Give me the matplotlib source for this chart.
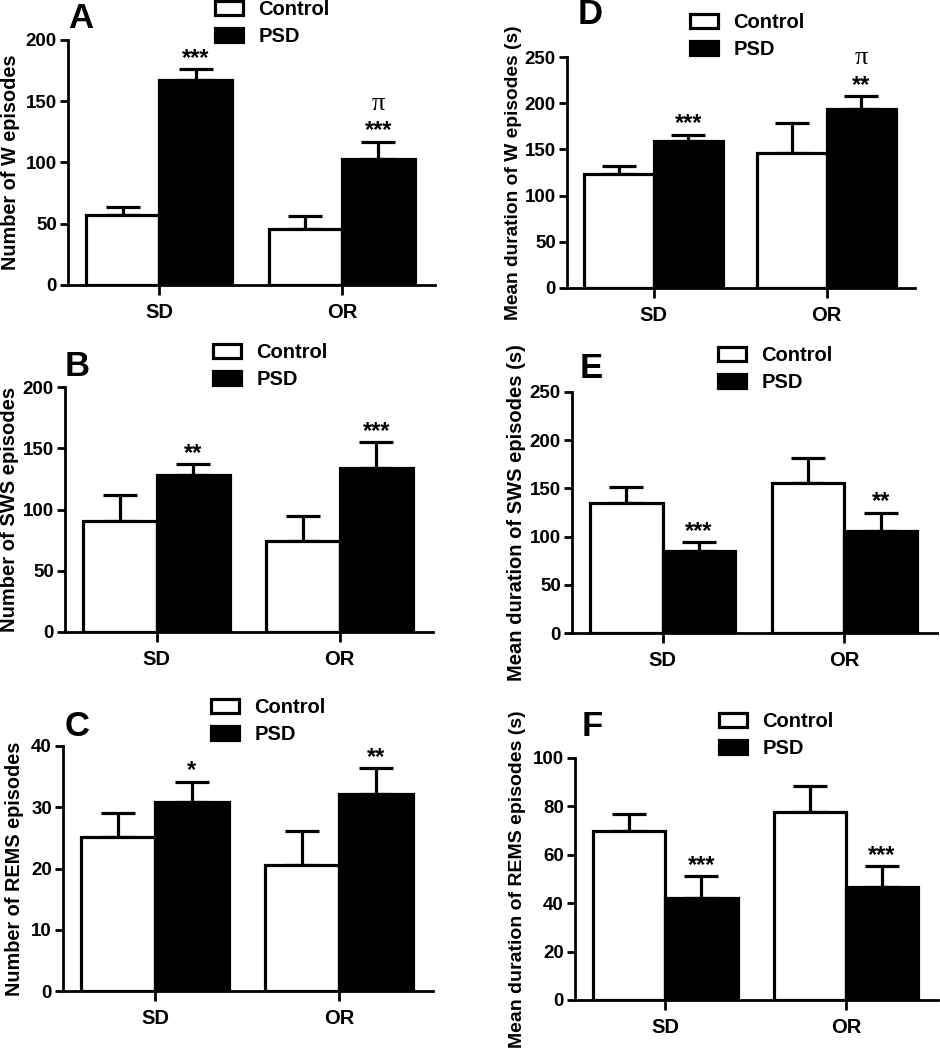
import matplotlib
matplotlib.use("Agg")
import matplotlib.pyplot as plt
from matplotlib.transforms import blended_transform_factory
from matplotlib.patches import Patch
import numpy as np

plt.rcParams['font.family'] = ['Liberation Sans', 'DejaVu Sans']
plt.rcParams['font.weight'] = 'bold'

categories = ['SD', 'OR']
groups = ['Control', 'PSD']

A_ctrl = [57, 46]
A_ctrl_err = [7, 10]
A_psd = [167, 103]
A_psd_err = [9, 14]
A_stars = ['***', '***']
A_pi = ['', 'π']
A_ticks = [0, 50, 100, 150, 200]

B_ctrl = [91, 74]
B_ctrl_err = [21, 21]
B_psd = [128, 134]
B_psd_err = [9, 21]
B_stars = ['**', '***']
B_pi = ['', '']
B_ticks = [0, 50, 100, 150, 200]

C_ctrl = [25.2, 20.5]
C_ctrl_err = [3.9, 5.7]
C_psd = [30.8, 32.2]
C_psd_err = [3.4, 4.2]
C_stars = ['*', '**']
C_pi = ['', '']
C_ticks = [0, 10, 20, 30, 40]

D_ctrl = [123, 146]
D_ctrl_err = [9, 33]
D_psd = [159, 194]
D_psd_err = [7, 14]
D_stars = ['***', '**']
D_pi = ['', 'π']
D_ticks = [0, 50, 100, 150, 200, 250]

E_ctrl = [135, 156]
E_ctrl_err = [16, 26]
E_psd = [85, 106]
E_psd_err = [9, 19]
E_stars = ['***', '**']
E_pi = ['', '']
E_ticks = [0, 50, 100, 150, 200, 250]

F_ctrl = [70, 77.5]
F_ctrl_err = [6.8, 10.8]
F_psd = [42, 46.6]
F_psd_err = [9.2, 8.6]
F_stars = ['***', '***']
F_pi = ['', '']
F_ticks = [0, 20, 40, 60, 80, 100]

W, H = 940, 1050
fig = plt.figure(figsize=(W / 100, H / 100), dpi=100)


def px_axes(left, right, top, bottom):
    return fig.add_axes([left / W, 1 - bottom / H, (right - left) / W, (bottom - top) / H])


panels = [
    # letter, ylabel, ctrl, ctrl_err, psd, psd_err, stars, pi, ticks, axes px, label x px,
    # label size, letter px, legend px
    ('A', 'Number of W episodes', A_ctrl, A_ctrl_err, A_psd, A_psd_err, A_stars, A_pi, A_ticks,
     (68, 435, 40, 285), 11, 14.3, (81, 19), (215, 0)),
    ('B', 'Number of SWS episodes', B_ctrl, B_ctrl_err, B_psd, B_psd_err, B_stars, B_pi, B_ticks,
     (65, 433, 387, 632), 10, 14.5, (77, 366), (213, 343)),
    ('C', 'Number of REMS episodes', C_ctrl, C_ctrl_err, C_psd, C_psd_err, C_stars, C_pi, C_ticks,
     (63, 433, 746, 991), 15, 14.3, (77, 726), (211, 698)),
    ('D', 'Mean duration of W episodes (s)', D_ctrl, D_ctrl_err, D_psd, D_psd_err, D_stars, D_pi, D_ticks,
     (567, 915, 57, 288), 513, 13.8, (590, 15), (690, 13)),
    ('E', 'Mean duration of SWS episodes (s)', E_ctrl, E_ctrl_err, E_psd, E_psd_err, E_stars, E_pi, E_ticks,
     (572, 937, 392, 633), 517, 14.5, (591, 369), (718, 346)),
    ('F', 'Mean duration of REMS episodes (s)', F_ctrl, F_ctrl_err, F_psd, F_psd_err, F_stars, F_pi, F_ticks,
     (575, 938, 758, 1000), 517, 14.0, (592, 727), (719, 712)),
]

bw = 0.4
lw = 2.3
x = np.arange(len(categories))

for (letter, ylabel, ctrl, ctrl_err, psd, psd_err, stars, pis, ticks,
     box, labx, labsize, letpos, legpos) in panels:
    ax = px_axes(*box)
    xc = x - bw / 2
    xp = x + bw / 2
    ax.errorbar(xc, ctrl, yerr=[np.zeros(len(ctrl)), ctrl_err], fmt='none', ecolor='black',
                elinewidth=lw, capsize=12, capthick=lw, zorder=1)
    ax.errorbar(xp, psd, yerr=[np.zeros(len(psd)), psd_err], fmt='none', ecolor='black',
                elinewidth=lw, capsize=12, capthick=lw, zorder=1)
    ax.bar(xc, ctrl, width=bw, color='white', edgecolor='black', linewidth=lw, zorder=2,
           label=groups[0])
    ax.bar(xp, psd, width=bw, color='black', edgecolor='black', linewidth=lw, zorder=2,
           label=groups[1])
    for i in range(len(categories)):
        top = psd[i] + psd_err[i]
        ax.annotate(stars[i], (xp[i], top), xytext=(0, 3), textcoords='offset points',
                    ha='center', va='baseline', fontsize=17, fontweight='bold')
        if pis[i]:
            ax.annotate(pis[i], (xp[i], top), xytext=(0, 23), textcoords='offset points',
                        ha='center', va='baseline', fontsize=19, fontweight='normal',
                        family=['Liberation Serif', 'DejaVu Serif'])
    ax.set_xlim(-0.5, 1.51)
    ax.set_ylim(0, ticks[-1])
    ax.set_yticks(ticks)
    ax.set_xticks(x)
    ax.set_xticklabels(categories, fontsize=14.5, fontweight='bold')
    ax.tick_params(axis='y', labelsize=13.5, width=2, length=6, pad=2)
    ax.tick_params(axis='x', width=2, length=7, pad=6)
    for lab in ax.get_yticklabels():
        lab.set_fontweight('bold')
    for s in ['top', 'right']:
        ax.spines[s].set_visible(False)
    for s in ['left', 'bottom']:
        ax.spines[s].set_linewidth(2)
    ax.set_ylabel(ylabel, fontsize=labsize, fontweight='bold')
    tr = blended_transform_factory(fig.transFigure, ax.transAxes)
    ax.yaxis.set_label_coords(labx / W, 0.5, transform=tr)
    ax.yaxis.label.set_va('center')
    fig.text(letpos[0] / W, 1 - letpos[1] / H, letter, fontsize=25, fontweight='bold',
             ha='center', va='center')
    handles = [Patch(facecolor='white', edgecolor='black', linewidth=2.3),
               Patch(facecolor='black', edgecolor='black', linewidth=2.3)]
    ax.legend(handles, groups, loc='upper left',
              bbox_to_anchor=(legpos[0] / W, 1 - legpos[1] / H), bbox_transform=fig.transFigure,
              frameon=False, borderpad=0, borderaxespad=0, handlelength=1.4, handleheight=0.75,
              handletextpad=0.75, labelspacing=0.4, prop={'size': 14.5, 'weight': 'bold'})

fig.savefig('out.png', dpi=100)
